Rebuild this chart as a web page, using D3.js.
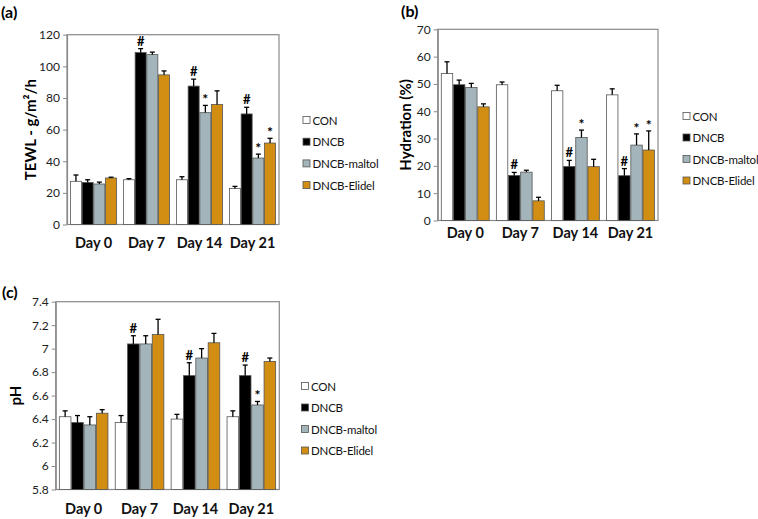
<!DOCTYPE html>
<html><head><meta charset="utf-8">
<script src="https://cdn.jsdelivr.net/npm/d3@7/dist/d3.min.js"></script>
<style>
html,body{margin:0;padding:0;background:#fff;}
svg{display:block;font-family:Lato,"Open Sans",sans-serif;}
</style></head>
<body>
<svg id="chart" width="758" height="519"></svg>
<script>
// ---------- data ----------
const categories = ["Day 0", "Day 7", "Day 14", "Day 21"];
const seriesNames = ["CON", "DNCB", "DNCB-maltol", "DNCB-Elidel"];
const seriesColors = ["#ffffff", "#000000", "#a3b5ba", "#d18e12"];

// (a) TEWL, one row per series, one value per day
const tewlMean = [[27.3, 28.3, 28.3, 22.7], [26.6, 108.7, 87.5, 69.9], [25.6, 107.4, 70.7, 42.0], [29.4, 94.6, 75.9, 51.5]];
const tewlErr  = [[4.0, 0.7, 1.9, 1.4], [1.7, 2.5, 4.4, 4.2], [1.2, 1.6, 4.6, 2.5], [0.5, 2.5, 8.6, 3.0]];
const tewlMark = [["", "", "", ""], ["", "#", "#", "#"], ["", "", "*", "*"], ["", "", "", "*"]];
const tewlTicks = [0, 20, 40, 60, 80, 100, 120];

// (b) Hydration
const hydMean = [[53.8, 49.7, 47.5, 46.0], [49.7, 16.5, 19.8, 16.4], [48.7, 17.7, 30.4, 27.6], [41.6, 7.2, 19.7, 25.8]];
const hydErr  = [[4.3, 1.0, 2.0, 2.2], [1.7, 1.1, 2.2, 2.6], [1.5, 0.7, 2.7, 4.1], [1.1, 1.3, 2.7, 7.0]];
const hydMark = [["", "", "", ""], ["", "#", "#", "#"], ["", "", "*", "*"], ["", "", "", "*"]];
const hydTicks = [0, 10, 20, 30, 40, 50, 60, 70];

// (c) pH
const phMean = [[6.42, 6.37, 6.40, 6.42], [6.37, 7.04, 6.77, 6.77], [6.35, 7.04, 6.92, 6.52], [6.45, 7.12, 7.05, 6.89]];
const phErr  = [[0.05, 0.06, 0.04, 0.05], [0.06, 0.07, 0.11, 0.09], [0.07, 0.07, 0.08, 0.03], [0.03, 0.13, 0.08, 0.03]];
const phMark = [["", "", "", ""], ["", "#", "#", "#"], ["", "", "", "*"], ["", "", "", ""]];
const phTicks = [5.8, 6, 6.2, 6.4, 6.6, 6.8, 7, 7.2, 7.4];

// ---------- drawing ----------
const svg = d3.select("#chart");

function drawPanel(o) {
  const g = svg.append("g");
  const x0 = d3.scaleBand().domain(categories).range([o.left, o.right]).paddingInner(0.13).paddingOuter(0.065);
  const x1 = d3.scaleBand().domain(seriesNames).range([0, x0.bandwidth()]).paddingInner(0.06);
  const y = d3.scaleLinear().domain(o.domain).range([o.bottom, o.top]);

  // frame
  g.append("rect").attr("x", o.left).attr("y", o.top)
    .attr("width", o.right - o.left).attr("height", o.bottom - o.top)
    .attr("fill", "none").attr("stroke", "#8a8a8a").attr("stroke-width", 1.2);

  // y axis
  const ya = d3.axisLeft(y).tickValues(o.ticks).tickSizeInner(4).tickSizeOuter(0).tickPadding(3)
    .tickFormat(d => String(+d.toFixed(1)));
  const yg = g.append("g").attr("transform", `translate(${o.left},0)`).call(ya);
  yg.select(".domain").attr("stroke", "#8a8a8a").attr("stroke-width", 1.2);
  yg.selectAll(".tick line").attr("stroke", "#8a8a8a");
  yg.selectAll(".tick text").attr("font-size", 12).attr("fill", "#222").attr("font-family", "Lato, sans-serif");

  // x axis (labels only)
  const xa = d3.axisBottom(x0).tickSize(0).tickPadding(o.xPad);
  const xg = g.append("g").attr("transform", `translate(0,${o.bottom})`).call(xa);
  xg.select(".domain").remove();
  xg.selectAll(".tick text").attr("font-size", 14.5).attr("font-weight", "bold").attr("fill", "#111")
    .attr("font-family", "Lato, sans-serif");

  // bars
  seriesNames.forEach((s, si) => {
    categories.forEach((c, ci) => {
      const v = o.mean[si][ci], e = o.err[si][ci];
      const bx = x0(c) + x1(s), bw = x1.bandwidth();
      g.append("rect").attr("x", bx).attr("y", y(v))
        .attr("width", bw).attr("height", y(o.domain[0]) - y(v))
        .attr("fill", seriesColors[si]).attr("stroke", "#555").attr("stroke-width", 0.8);
      const cx = bx + bw / 2;
      g.append("line").attr("x1", cx).attr("x2", cx).attr("y1", y(v)).attr("y2", y(v + e))
        .attr("stroke", "#000").attr("stroke-width", 1.3);
      g.append("line").attr("x1", cx - 2.5).attr("x2", cx + 2.5).attr("y1", y(v + e)).attr("y2", y(v + e))
        .attr("stroke", "#000").attr("stroke-width", 1.3);
      const m = o.mark[si][ci];
      if (m) {
        g.append("text").attr("x", cx).attr("y", y(v + e) - (m === "#" ? 3 : 1))
          .attr("text-anchor", "middle").attr("font-size", m === "#" ? 13 : 14).attr("font-weight", "bold")
          .attr("font-family", "Lato, sans-serif")
          .text(m);
      }
    });
  });

  // y title
  g.append("text").attr("transform", `translate(${o.titleX},${(o.top + o.bottom) / 2}) rotate(-90)`)
    .attr("text-anchor", "middle").attr("dominant-baseline", "central")
    .attr("font-size", 15).attr("font-weight", "bold").attr("font-family", "Lato, sans-serif")
    .text(o.title);

  // panel label
  g.append("text").attr("x", o.labelX).attr("y", o.labelY).attr("font-size", 16).attr("font-weight", "bold")
    .attr("font-family", "Lato, sans-serif").text(o.label);

  // legend
  seriesNames.forEach((s, si) => {
    const ly = o.legendY + si * o.legendStep;
    g.append("rect").attr("x", o.legendX).attr("y", ly - 3.5).attr("width", 7).attr("height", 7)
      .attr("fill", seriesColors[si]).attr("stroke", "#555").attr("stroke-width", 0.8);
    g.append("text").attr("x", o.legendX + 9.5).attr("y", ly).attr("dominant-baseline", "central")
      .attr("font-size", 11.5).attr("letter-spacing", "-0.2px").attr("fill", "#111")
      .attr("font-family", "Lato, sans-serif").text(s);
  });
}

drawPanel({ left: 67, right: 279, top: 34.7, bottom: 224.5, domain: [0, 120], ticks: tewlTicks,
  mean: tewlMean, err: tewlErr, mark: tewlMark, title: "TEWL - g/m²/h", titleX: 30,
  label: "(a)", labelX: 1, labelY: 18, legendX: 303, legendY: 120, legendStep: 21.7, xPad: 13.5 });

drawPanel({ left: 437.7, right: 658, top: 29.3, bottom: 220.5, domain: [0, 70], ticks: hydTicks,
  mean: hydMean, err: hydErr, mark: hydMark, title: "Hydration (%)", titleX: 405,
  label: "(b)", labelX: 401, labelY: 17, legendX: 683, legendY: 116, legendStep: 21.5, xPad: 7.5 });

drawPanel({ left: 55.7, right: 279.3, top: 301.7, bottom: 489.5, domain: [5.8, 7.4], ticks: phTicks,
  mean: phMean, err: phErr, mark: phMark, title: "pH", titleX: 15,
  label: "(c)", labelX: 2, labelY: 298, legendX: 301.5, legendY: 386, legendStep: 21.5, xPad: 14 });
</script>
</body></html>
